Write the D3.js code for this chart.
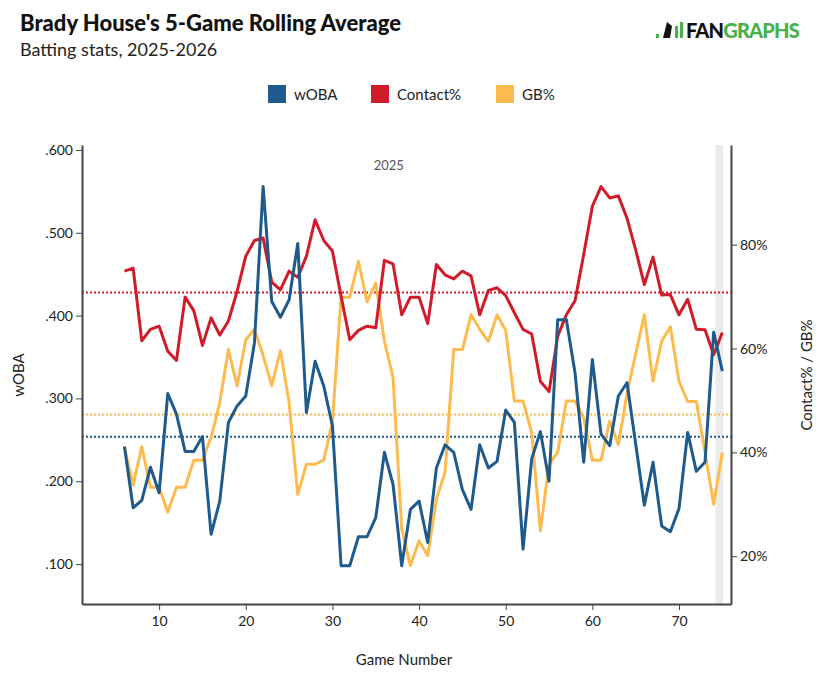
<!DOCTYPE html>
<html><head><meta charset="utf-8">
<script src="https://cdn.jsdelivr.net/npm/d3@7"></script>
<style>body{margin:0;background:#fff;font-family:Lato,sans-serif}</style>
</head><body><svg id="c" width="824" height="687"></svg>
<script>
const games = d3.range(6, 76);
const woba = [.242,.168,.177,.217,.186,.306,.281,.236,.236,.254,.136,.176,.271,.291,.303,.367,.556,.417,.398,.419,.487,.283,.345,.315,.267,.098,.098,.133,.133,.156,.235,.196,.098,.166,.176,.126,.216,.244,.235,.190,.166,.244,.216,.224,.286,.271,.118,.227,.260,.200,.395,.395,.331,.223,.347,.257,.243,.303,.319,.245,.171,.223,.146,.139,.167,.259,.212,.223,.380,.333];
const contact = [74.9,75.5,61.5,63.7,64.3,59.5,57.7,69.9,67.3,60.6,65.9,62.6,65.3,71.0,77.8,80.8,81.3,72.8,71.3,74.9,73.7,77.8,84.8,80.8,78.8,70.1,61.7,63.5,64.3,64.0,77.0,76.3,66.5,69.9,69.9,64.8,76.2,74.2,73.4,74.9,74.0,66.5,71.2,71.7,70.2,66.9,63.7,62.8,53.7,51.7,62.4,66.5,69.2,78.1,87.4,91.2,89.0,89.4,85.1,79.0,72.3,77.6,70.3,70.4,66.5,69.5,63.7,63.6,58.8,63.1];
const gb = [40.9,33.7,41.1,33.3,33.3,28.5,33.3,33.3,38.5,38.5,42.9,49.6,59.8,52.8,61.7,63.7,58.7,52.8,59.6,49.6,31.9,37.7,37.7,38.5,45.9,69.9,69.9,76.8,69.0,72.6,61.4,54.4,25.2,18.2,23.0,20.1,31.0,36.2,59.8,59.8,66.5,63.7,61.4,66.5,63.5,49.9,49.9,43.8,24.9,37.7,40.0,49.9,49.9,46.7,38.5,38.5,46.0,41.5,51.3,59.0,66.5,53.7,61.4,64.2,53.7,49.8,49.8,40.0,30.0,40.0];
const avgWoba = .2536, avgContact = 70.8, avgGb = 47.3;
const xTicks = [10,20,30,40,50,60,70];
const leftTicks = [.1,.2,.3,.4,.5,.6];
const rightTicks = [20,40,60,80];
const colors = {woba:"#1f5a8c", contact:"#d01c2a", gb:"#fdbb4f"};

const svg = d3.select("#c");
const L=82,R=731,T=145,B=604;
const x = d3.scaleLinear().domain([1.1,76]).range([L,R]);
const yL = d3.scaleLinear().domain([.0518,.606]).range([B,T]);
const yR = d3.scaleLinear().domain([10.8,99.2]).range([B,T]);

svg.append("text").attr("x",20).attr("y",31).attr("font-size",22).attr("font-weight",900).attr("fill","#111").text("Brady House's 5-Game Rolling Average");
svg.append("text").attr("x",20).attr("y",56).attr("font-size",18).attr("fill","#222").text("Batting stats, 2025-2026");
// logo
const lg = svg.append("g");
lg.append("text").attr("x",686).attr("y",38).attr("font-size",20).attr("font-weight",900).attr("letter-spacing",-0.8)
  .html('<tspan fill="#111">FAN</tspan><tspan fill="#4ab04a">GRAPHS</tspan>');
lg.append("rect").attr("x",656).attr("y",34).attr("width",3).attr("height",4).attr("fill","#4ab04a");
lg.append("path").attr("d","M663,38 L667,22 L672,26 L670,38 Z").attr("fill","#111");
lg.append("rect").attr("x",675).attr("y",26).attr("width",3).attr("height",12).attr("fill","#4ab04a");
lg.append("rect").attr("x",680).attr("y",22).attr("width",3).attr("height",16).attr("fill","#4ab04a");

// legend
const leg=[["wOBA",colors.woba,268],["Contact%",colors.contact,371],["GB%",colors.gb,496]];
leg.forEach(([t,c,lx])=>{
  svg.append("rect").attr("x",lx).attr("y",85).attr("width",18).attr("height",18).attr("fill",c);
  svg.append("text").attr("x",lx+26).attr("y",100).attr("font-size",15).attr("fill","#222").text(t);
});

// band
svg.append("rect").attr("x",x(74.2)).attr("y",T).attr("width",x(75.1)-x(74.2)).attr("height",B-T).attr("fill","#ebebeb");
svg.append("text").attr("x",x(36.5)).attr("y",170).attr("text-anchor","middle").attr("font-size",13).attr("fill","#555").text("2025");

// avg lines
[[yL(avgWoba),colors.woba],[yR(avgContact),colors.contact],[yR(avgGb),colors.gb]].forEach(([yy,c])=>{
  svg.append("line").attr("x1",L).attr("x2",R).attr("y1",yy).attr("y2",yy).attr("stroke",c).attr("stroke-width",2).attr("stroke-dasharray","2,2");
});

const mk=(vals,ys)=>d3.line().x((d,i)=>x(games[i])).y(d=>ys(d))(vals);
[[gb,yR,colors.gb],[contact,yR,colors.contact],[woba,yL,colors.woba]].forEach(([v,s,c])=>{
  svg.append("path").attr("d",mk(v,s)).attr("fill","none").attr("stroke",c).attr("stroke-width",3).attr("stroke-linejoin","round");
});

// axes
const ax=(g)=>{g.selectAll("text").attr("font-family","Lato").attr("font-size",14).attr("fill","#222");g.selectAll(".domain,line").attr("stroke","#444");};
svg.append("g").attr("transform",`translate(0,${B})`).call(d3.axisBottom(x).tickValues(xTicks).tickSize(6).tickPadding(6).tickSizeOuter(0)).call(ax).select(".domain").attr("stroke-width",2);
svg.append("g").attr("transform",`translate(${L},0)`).call(d3.axisLeft(yL).tickValues(leftTicks).tickSize(6).tickSizeOuter(0).tickFormat(d=>d3.format(".3f")(d).replace(/^0/,""))).call(ax).select(".domain").attr("stroke-width",2);
svg.append("g").attr("transform",`translate(${R},0)`).call(d3.axisRight(yR).tickValues(rightTicks).tickSize(6).tickSizeOuter(0).tickFormat(d=>d+"%")).call(ax).select(".domain").attr("stroke-width",2);

svg.append("text").attr("x",404).attr("y",665).attr("text-anchor","middle").attr("font-size",15).attr("fill","#222").text("Game Number");
svg.append("text").attr("transform","translate(24,375) rotate(-90)").attr("text-anchor","middle").attr("font-size",15).attr("fill","#222").text("wOBA");
svg.append("text").attr("transform","translate(812,375) rotate(-90)").attr("text-anchor","middle").attr("font-size",15).attr("fill","#222").text("Contact% / GB%");
</script></body></html>
